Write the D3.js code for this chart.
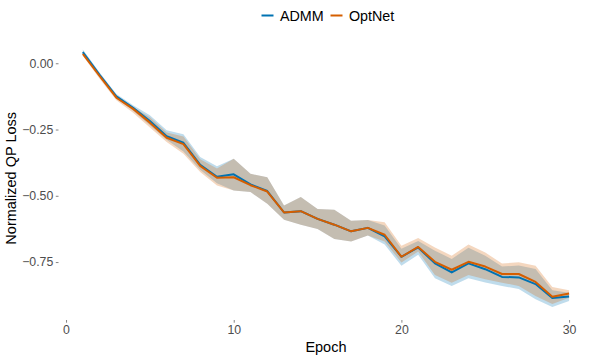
<!DOCTYPE html>
<html>
<head>
<meta charset="utf-8">
<script src="https://cdn.jsdelivr.net/npm/d3@7"></script>
<style>
  body { margin: 0; background: #fff; }
  text { font-family: "Liberation Sans", Arial, sans-serif; }
</style>
</head>
<body>
<svg id="chart"></svg>
<script>
const epochs = [1,2,3,4,5,6,7,8,9,10,11,12,13,14,15,16,17,18,19,20,21,22,23,24,25,26,27,28,29,30];

const admm   = [0.042,-0.044,-0.125,-0.168,-0.218,-0.275,-0.300,-0.383,-0.428,-0.419,-0.457,-0.482,-0.563,-0.558,-0.587,-0.609,-0.634,-0.621,-0.653,-0.730,-0.695,-0.755,-0.789,-0.755,-0.777,-0.806,-0.808,-0.833,-0.886,-0.880];
const admmHi = [0.052,-0.035,-0.116,-0.158,-0.196,-0.253,-0.268,-0.354,-0.389,-0.360,-0.417,-0.430,-0.537,-0.505,-0.550,-0.553,-0.594,-0.591,-0.612,-0.700,-0.671,-0.707,-0.738,-0.696,-0.726,-0.767,-0.763,-0.776,-0.856,-0.866];
const admmLo = [0.036,-0.050,-0.132,-0.179,-0.234,-0.289,-0.333,-0.402,-0.453,-0.480,-0.486,-0.530,-0.590,-0.609,-0.625,-0.663,-0.672,-0.650,-0.684,-0.764,-0.722,-0.811,-0.840,-0.811,-0.827,-0.840,-0.852,-0.890,-0.920,-0.897];

const optnet   = [0.035,-0.048,-0.130,-0.172,-0.224,-0.281,-0.305,-0.387,-0.432,-0.430,-0.460,-0.484,-0.563,-0.558,-0.587,-0.609,-0.634,-0.621,-0.647,-0.730,-0.693,-0.749,-0.779,-0.749,-0.767,-0.795,-0.795,-0.825,-0.881,-0.869];
const optnetHi = [0.044,-0.043,-0.124,-0.166,-0.204,-0.261,-0.276,-0.362,-0.397,-0.360,-0.417,-0.430,-0.537,-0.505,-0.550,-0.553,-0.594,-0.591,-0.600,-0.688,-0.659,-0.695,-0.726,-0.684,-0.714,-0.755,-0.751,-0.764,-0.844,-0.856];
const optnetLo = [0.028,-0.058,-0.140,-0.187,-0.242,-0.297,-0.341,-0.410,-0.461,-0.480,-0.486,-0.530,-0.590,-0.609,-0.625,-0.663,-0.672,-0.650,-0.672,-0.752,-0.710,-0.799,-0.828,-0.799,-0.815,-0.828,-0.840,-0.878,-0.908,-0.885];

const seriesNames = ["ADMM", "OptNet"];
const seriesColors = ["#0072B2", "#D55E00"];
const xTicks = [0, 10, 20, 30];
const yTicks = [0, -0.25, -0.5, -0.75];

const width = 598, height = 359;
const margin = { top: 36.6, right: 4.6, bottom: 39, left: 58.5 };

const series = [
  { name: seriesNames[0], color: seriesColors[0], mean: admm, lo: admmLo, hi: admmHi },
  { name: seriesNames[1], color: seriesColors[1], mean: optnet, lo: optnetLo, hi: optnetHi }
];

const svg = d3.select("#chart")
  .attr("width", width)
  .attr("height", height);

// ggplot style 5% expansion on both axes
const xExt = d3.extent(epochs);
const xPad = (xExt[1] - xExt[0]) * 0.05;
const x = d3.scaleLinear()
  .domain([xExt[0] - xPad, xExt[1] + xPad])
  .range([margin.left, width - margin.right]);

const yExt = d3.extent([].concat(admmLo, admmHi, optnetLo, optnetHi, admm, optnet));
const yPad = (yExt[1] - yExt[0]) * 0.05;
const y = d3.scaleLinear()
  .domain([yExt[0] - yPad, yExt[1] + yPad])
  .range([height - margin.bottom, margin.top]);

// ribbons
const area = d3.area()
  .x((d, i) => x(epochs[i]))
  .y0(d => y(d[0]))
  .y1(d => y(d[1]));

svg.append("g")
  .selectAll("path")
  .data(series)
  .join("path")
  .attr("fill", d => d.color)
  .attr("fill-opacity", 0.25)
  .attr("d", d => area(d.lo.map((v, i) => [v, d.hi[i]])));

// lines
const line = d3.line()
  .x((d, i) => x(epochs[i]))
  .y(d => y(d));

svg.append("g")
  .selectAll("path")
  .data(series)
  .join("path")
  .attr("fill", "none")
  .attr("stroke", d => d.color)
  .attr("stroke-width", 2)
  .attr("stroke-linejoin", "round")
  .attr("d", d => line(d.mean));

// axes
const xAxis = svg.append("g")
  .attr("transform", `translate(0,${height - margin.bottom})`)
  .call(d3.axisBottom(x).tickValues(xTicks).tickSize(2.7).tickPadding(3).tickFormat(d3.format("d")));

const yAxis = svg.append("g")
  .attr("transform", `translate(${margin.left},0)`)
  .call(d3.axisLeft(y).tickValues(yTicks).tickSize(2.7).tickPadding(2.5)
    .tickFormat(d => d3.format(".2f")(d)));

[xAxis, yAxis].forEach(ax => {
  ax.select(".domain").remove();
  ax.selectAll(".tick line").attr("stroke", "#333333").attr("stroke-width", 0.6);
  ax.selectAll(".tick text").attr("fill", "#4d4d4d").style("font-size", "12.3px");
});

// axis titles
svg.append("text")
  .attr("x", (margin.left + width - margin.right) / 2)
  .attr("y", 351.5)
  .attr("text-anchor", "middle")
  .style("font-size", "14.5px")
  .attr("fill", "#000")
  .text("Epoch");

svg.append("text")
  .attr("transform", `translate(15.5,${(margin.top + height - margin.bottom) / 2}) rotate(-90)`)
  .attr("text-anchor", "middle")
  .style("font-size", "14.5px")
  .attr("fill", "#000")
  .text("Normalized QP Loss");

// legend
const legendX = [261.5, 330.5];
const legend = svg.append("g")
  .selectAll("g")
  .data(series)
  .join("g")
  .attr("transform", (d, i) => `translate(${legendX[i]},15.5)`);

legend.append("line")
  .attr("x1", 0).attr("x2", 12)
  .attr("stroke", d => d.color)
  .attr("stroke-width", 2);

legend.append("text")
  .attr("x", 18.5)
  .attr("dy", "0.35em")
  .style("font-size", "14.3px")
  .attr("fill", "#000")
  .text(d => d.name);
</script>
</body>
</html>
